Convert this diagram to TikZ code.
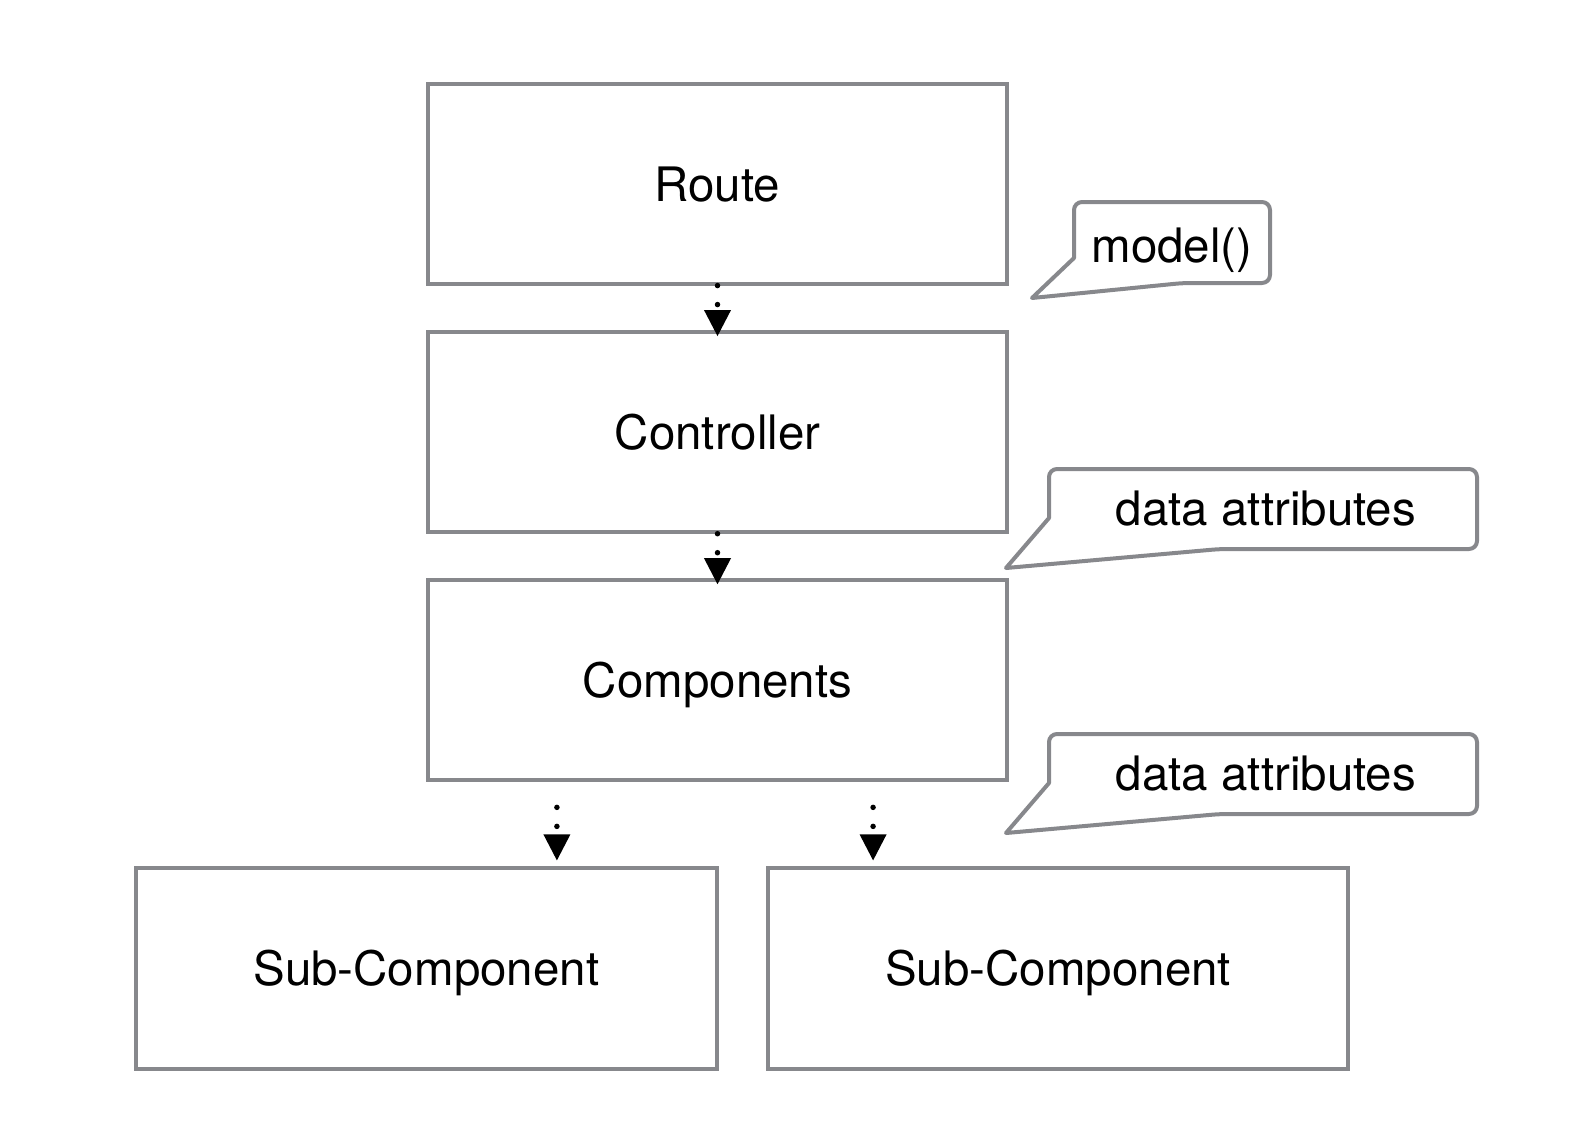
\documentclass[tikz,border=0pt]{standalone}
\usepackage{fontspec}
\setmainfont{TeX Gyre Heros}
\usetikzlibrary{arrows.meta,positioning}
\definecolor{boxgray}{RGB}{135,136,140}
\tikzset{
    block/.style = {rectangle,fill=none,draw=boxgray,text=black,line width=0.04cm,outer sep=0pt,
                    minimum width=5.79cm, minimum height=2cm,text height=0.34cm,text depth=0pt,
                    font=\fontsize{13.5}{16}\selectfont},
    note/.style = {draw=boxgray,line width=0.04cm,line join=round},
    notetext/.style = {anchor=base,text=black,font=\fontsize{13.5}{16}\selectfont},
    flow/.style = {-{Triangle[width=0.27cm,length=0.26cm,line width=0pt]},black,line width=0.055cm,
                   line cap=round,dash pattern=on 0pt off 0.19cm},
    node distance=2.48cm
}
\begin{document}
\begin{tikzpicture}[x=0.01cm,y=-0.01cm]
            \useasboundingbox (0,0) rectangle (1584,1142);
            \node[block]  (route) at (717.5,184)    {Route};
            \node[block]  (ctrl)  [below of=route]  {Controller};
            \node[block]  (comp)  [below of=ctrl]   {Components};
            \node[block, minimum width=5.81cm] (sub1) [below of=comp, node distance=2.88cm, xshift=-2.91cm] {Sub-Component};
            \node[block, minimum width=5.80cm] (sub2) [below of=comp, node distance=2.88cm, xshift=3.405cm] {Sub-Component};

            \path   (route) edge [flow, shorten <=0.015cm, shorten >=-0.04cm] (ctrl)
                    (ctrl)  edge [flow, shorten <=0.015cm, shorten >=-0.04cm] (comp);
            \draw[flow, shorten <=0.27cm, shorten >=0.08cm] ([xshift=1.29cm]comp.south west) -- ([xshift=1.29cm]comp.south west |- sub1.north);
            \draw[flow, shorten <=0.27cm, shorten >=0.08cm] ([xshift=4.45cm]comp.south west) -- ([xshift=4.45cm]comp.south west |- sub2.north);

            % callouts
            \draw[note] (1183,283) [sharp corners] -- (1032,298) -- (1074,258) [rounded corners=0.08cm] -- (1074,202) -- (1270,202) -- (1270,283) -- cycle;
            \node[notetext] (modelnote) at (1172,262) {model()};
            \draw[note] (1220,549) [sharp corners] -- (1006,568) -- (1049,518) [rounded corners=0.08cm] -- (1049,469) -- (1477,469) -- (1477,549) -- cycle;
            \node[notetext] (datanote1) at (1266,525) {data attributes};
            \draw[note] (1220,814) [sharp corners] -- (1006,833) -- (1049,783) [rounded corners=0.08cm] -- (1049,734) -- (1477,734) -- (1477,814) -- cycle;
            \node[notetext] (datanote2) at (1266,790) {data attributes};
        \end{tikzpicture}
\end{document}
